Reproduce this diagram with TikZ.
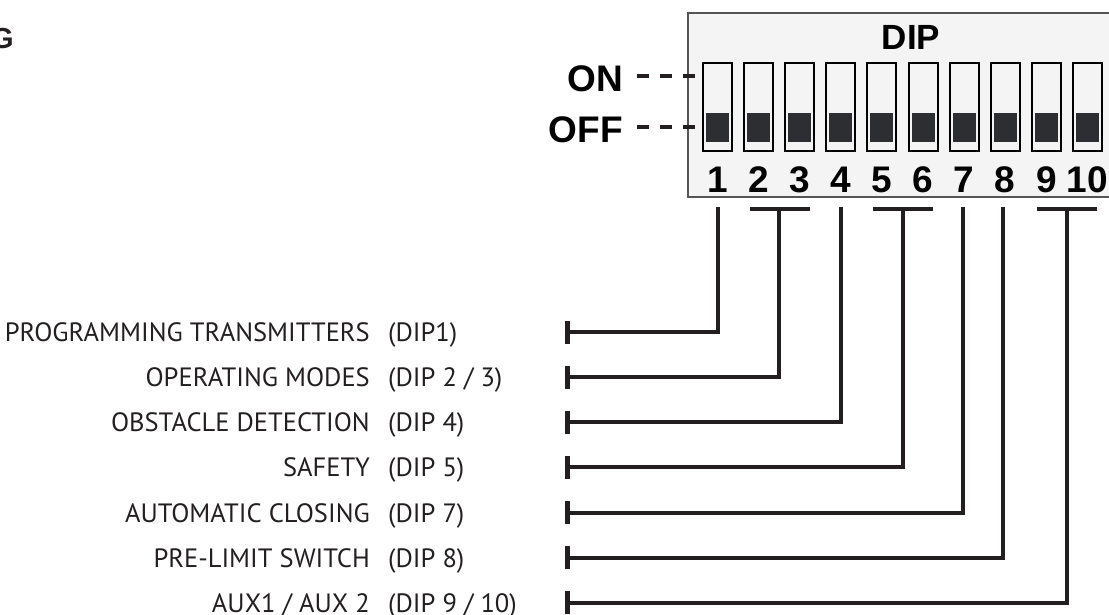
\documentclass[tikz,border=0pt]{standalone}
\usepackage{fontspec}
\setmainfont{Liberation Sans}
\newfontfamily\labfont{PT Sans}
\newfontfamily\boldfont{Liberation Sans}
\definecolor{ink}{HTML}{231F20}
\definecolor{boxgray}{HTML}{F4F4F4}
\definecolor{knobc}{HTML}{2C2E31}
\definecolor{edgegray}{HTML}{555555}
\tikzset{
  conn/.style={draw=ink, line width=4pt, line join=miter},
  tickbar/.style={draw=ink, line width=5pt},
  switchbox/.style={draw=black, line width=2pt, fill=boxgray, minimum width=29pt, minimum height=88pt, inner sep=0pt},
  knob/.style={fill=knobc, minimum width=23pt, minimum height=29pt, inner sep=0pt},
  numlab/.style={font=\boldfont\bfseries\fontsize{37}{40}\selectfont, inner sep=0pt, anchor=base},
  onoff/.style={font=\boldfont\bfseries\fontsize{37}{40}\selectfont, inner sep=0pt, anchor=east},
  onoffdash/.style={draw=ink, line width=4.5pt, dash pattern=on 12pt off 11pt},
  lbl/.style={font=\labfont\fontsize{26.5}{30}\selectfont, text=ink, inner sep=0pt, anchor=base east},
  plbl/.style={font=\labfont\fontsize{26.5}{30}\selectfont, text=ink, inner sep=0pt, anchor=base west},
}
\begin{document}
\begin{tikzpicture}[x=1pt, y=-1pt]
\useasboundingbox (0,0) rectangle (1109,614);
% cut-off heading letter
\node[font=\boldfont\bfseries\fontsize{29}{32}\selectfont, inner sep=0pt, anchor=base east, text=ink] (head) at (14,48) {G};
% DIP box
\fill[boxgray] (688,13) rectangle (1112,197);
\draw[edgegray, line width=1.2pt] (1112,13) -- (688,13) -- (688,197) -- (1112,197);
\node[font=\boldfont\bfseries\fontsize{35}{38}\selectfont, inner sep=0pt] (dip) at (911,37.5) {DIP};
% switches
\foreach \i in {1,...,10}{
  \pgfmathsetmacro{\cx}{717.5+(\i-1)*41.1}
  \node[switchbox] (sw\i) at (\cx,107) {};
  \node[knob] (kn\i) at (\cx,127.5) {};
  \node[numlab] (n\i) at (\cx,192) {\i};
}
% ON / OFF
\node[onoff] (on) at (623,78.5) {ON};
\node[onoff] (off) at (623,130) {OFF};
\coordinate (onA) at (637,76);
\coordinate (offA) at (637,127);
\draw[onoffdash] (onA) -- (onA -| sw1.west);
\draw[onoffdash] (offA) -- (offA -| sw1.west);
% top ends of connectors
\coordinate (v1) at (718,207);
\coordinate (v23) at (779,209);
\coordinate (v4) at (841,207);
\coordinate (v56) at (903,209);
\coordinate (v7) at (963,207);
\coordinate (v8) at (1003,207);
\coordinate (v910) at (1067,209);
% brackets
\draw[conn] (750,209) -- (810,209);
\draw[conn] (873,209) -- (933,209);
\draw[conn] (1037,209) -- (1097,209);
% labels and connectors
\foreach \r/\txt/\ptxt/\v in {
  1/{PROGRAMMING TRANSMITTERS}/{(DIP1)}/v1,
  2/{OPERATING MODES}/{(DIP 2 / 3)}/v23,
  3/{OBSTACLE DETECTION}/{(DIP 4)}/v4,
  4/{SAFETY}/{(DIP 5)}/v56,
  5/{AUTOMATIC CLOSING}/{(DIP 7)}/v7,
  6/{PRE-LIMIT SWITCH}/{(DIP 8)}/v8,
  7/{AUX1 / AUX 2}/{(DIP 9 / 10)}/v910}{
  \pgfmathsetmacro{\ry}{332+(\r-1)*45.15}
  \node[lbl] (l\r) at (370,\ry+9.5) {\txt};
  \node[plbl] (p\r) at (388,\ry+9.5) {\ptxt};
  \coordinate (t\r) at (567,\ry);
  \draw[tickbar] ([yshift=-11.5pt]t\r) -- ([yshift=11.5pt]t\r);
  \draw[conn] (t\r) -- (t\r -| \v) -- (\v);
}
\end{tikzpicture}
\end{document}
